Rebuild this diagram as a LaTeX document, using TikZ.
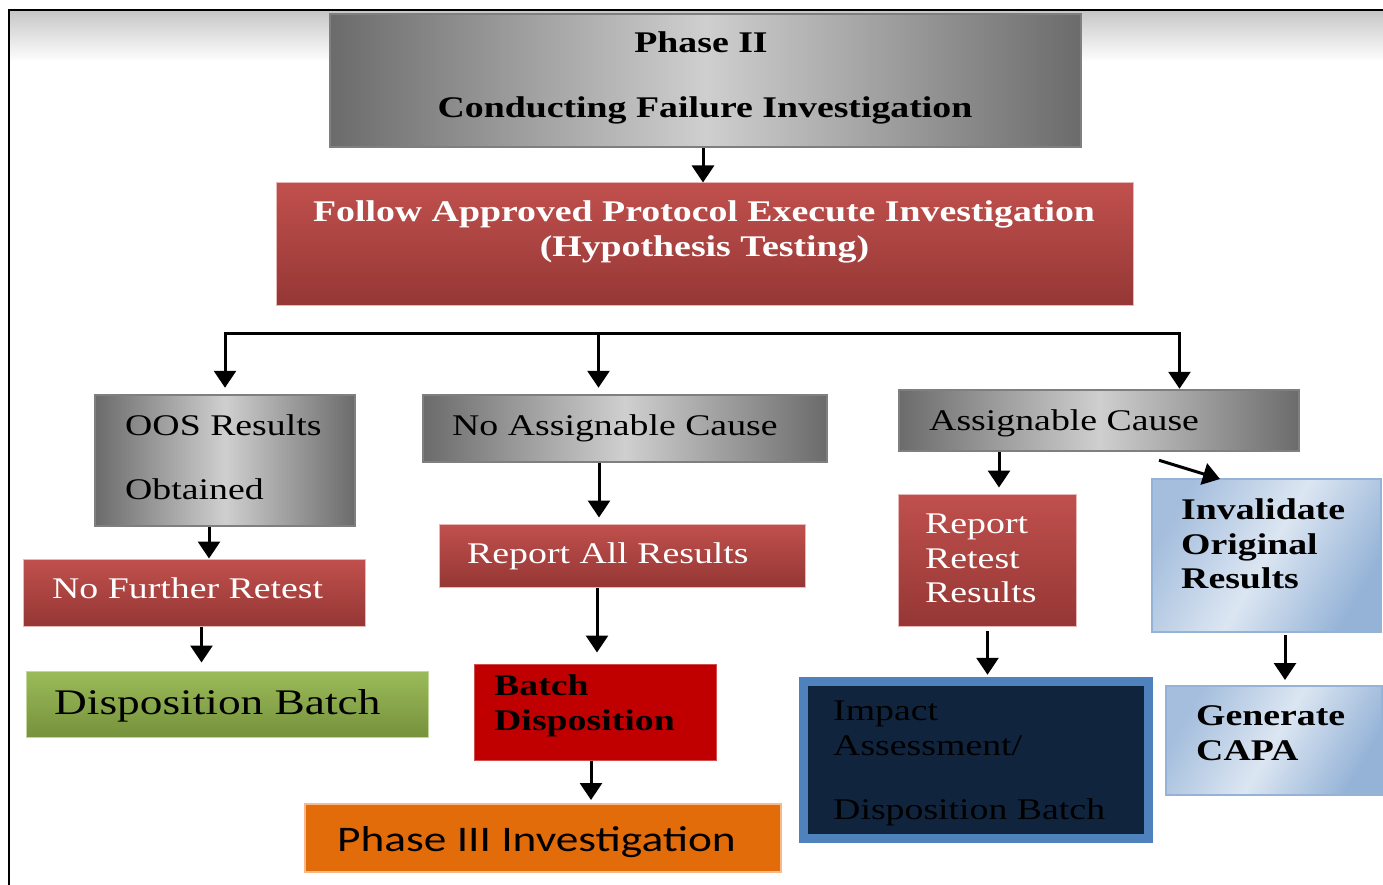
\documentclass[tikz,border=0pt]{standalone}
\usepackage{fontspec}
\setmainfont{Liberation Serif}[FakeStretch=1.26]
\newfontfamily\calfont{Carlito}[FakeStretch=1.26]
\usetikzlibrary{arrows.meta}

\definecolor{gdark}{HTML}{6B6B6B}
\definecolor{glight}{HTML}{CFCFCF}
\definecolor{gborder}{HTML}{7F7F7F}
\definecolor{rtop}{HTML}{C0504D}
\definecolor{rbot}{HTML}{953735}
\definecolor{rborder}{HTML}{E6B9B8}
\definecolor{gtop}{HTML}{9BBB59}
\definecolor{gbot}{HTML}{76923C}
\definecolor{gnborder}{HTML}{C3D69B}
\definecolor{brightred}{HTML}{C00000}
\definecolor{orangefill}{HTML}{E26B0A}
\definecolor{orangeborder}{HTML}{FAB98A}
\definecolor{bluedark}{HTML}{95B3D7}
\definecolor{bluelight}{HTML}{DCE6F2}
\definecolor{navy}{HTML}{10243E}
\definecolor{midblue}{HTML}{4F81BD}

\begin{document}
\begin{tikzpicture}[x=1pt,y=-1pt,
  box/.style={rectangle, inner sep=0pt},
  graybox/.style={box, draw=gborder, line width=2.5pt,
    left color=gdark, right color=gdark, middle color=glight},
  redbox/.style={box, draw=rborder, line width=1pt,
    top color=rtop, bottom color=rbot},
  greenbox/.style={box, draw=gnborder, line width=1pt,
    top color=gtop, bottom color=gbot},
  bluebox/.style={box, draw=bluedark, line width=2pt,
    left color=bluedark!85!white, right color=bluedark, middle color=bluelight,
    shading angle=60},
  txt/.style={inner sep=0pt, anchor=base west, font=\fontsize{30}{34}\selectfont},
  btxt/.style={txt, font=\fontsize{30}{34}\selectfont\bfseries},
  wtxt/.style={txt, text=white},
  line/.style={line width=3pt},
  arr/.style={line, -{Triangle[length=17pt,width=22pt]}}
]
\useasboundingbox (0,0) rectangle (1383,885);

% outer frame with a soft grey band along the top
\shade[top color=black!22, bottom color=white] (9,11) rectangle (1383,62);
\draw[line width=2.5pt, line cap=rect] (9,885) -- (9,10) -- (1383,10);

% ---- boxes ----
\node[graybox, minimum width=751, minimum height=133] (p2) at (705.5,80.5) {};
\node[redbox, minimum width=857, minimum height=122] (fol) at (704.5,244) {};

\node[graybox, minimum width=260, minimum height=131] (oos) at (225,460.5) {};
\node[graybox, minimum width=404, minimum height=67] (nac) at (625,428.5) {};
\node[graybox, minimum width=400, minimum height=61] (ac) at (1099,420.5) {};

\node[redbox, minimum width=342, minimum height=67] (nfr) at (194,592.5) {};
\node[greenbox, minimum width=402, minimum height=66] (dis) at (227,704) {};

\node[redbox, minimum width=366, minimum height=63] (rar) at (622,555.5) {};
\node[box, fill=brightred, draw=brightred!70!white, line width=1pt,
      minimum width=242, minimum height=96] (bd) at (595,712) {};
\node[box, fill=orangefill, draw=orangeborder, line width=2pt,
      minimum width=476, minimum height=68] (p3) at (543,838) {};

\node[redbox, minimum width=178, minimum height=132] (rrr) at (987,560) {};
\node[bluebox, minimum width=229, minimum height=153] (inv) at (1266.5,555.5) {};
\node[box, fill=navy, draw=midblue, line width=9pt,
      minimum width=344.5, minimum height=157.5] (imp) at (976,760) {};
\node[bluebox, minimum width=216, minimum height=109] (capa) at (1274,740.5) {};

% ---- texts ----
\node[btxt, anchor=base] (p2a) at (701,53) {Phase II};
\node[btxt, anchor=base] (p2b) at (705,118) {Conducting Failure Investigation};
\node[btxt, text=white, anchor=base] (fola) at (704,222) {Follow Approved Protocol Execute Investigation};
\node[btxt, text=white, anchor=base] (folb) at (704.5,257) {(Hypothesis Testing)};

\node[txt] (oosa) at (125,435) {OOS Results};
\node[txt] (oosb) at (125,499) {Obtained};
\node[txt] (naca) at (452,435) {No Assignable Cause};
\node[txt] (aca) at (929,430) {Assignable Cause};

\node[wtxt] (nfra) at (52,598) {No Further Retest};
\node[txt, font=\fontsize{36}{40}\selectfont] (disa) at (54,714) {Disposition Batch};

\node[wtxt] (rara) at (467,563) {Report All Results};
\node[btxt] (bda) at (494,695) {Batch};
\node[btxt] (bdb) at (494,730) {Disposition};
\node[txt, font=\fontsize{36}{40}\selectfont\calfont] (p3a) at (337,851) {Phase III Investigation};

\node[wtxt] (rrra) at (925,533) {Report};
\node[wtxt] (rrrb) at (925,568) {Retest};
\node[wtxt] (rrrc) at (925,602) {Results};

\node[btxt] (inva) at (1181,519) {Invalidate};
\node[btxt] (invb) at (1181,554) {Original};
\node[btxt] (invc) at (1181,588) {Results};

\node[txt] (impa) at (833,720) {Impact};
\node[txt] (impb) at (833,755) {Assessment/};
\node[txt] (impc) at (833,819) {Disposition Batch};

\node[btxt] (capaa) at (1196,725) {Generate};
\node[btxt] (capab) at (1196,760) {CAPA};

% ---- connectors ----
\draw[arr] ([xshift=-2.5pt]p2.south) -- ([xshift=-2.5pt]p2.south |- fol.north);

\coordinate (j1) at (225,333);
\coordinate (j2) at (598.5,333);
\coordinate (j3) at (1179.5,333);
\draw[line, line cap=rect] (j1) -- (j3);
\draw[arr, shorten >=6pt] (j1) -- (j1 |- oos.north);
\draw[arr, shorten >=6pt] (j2) -- (j2 |- nac.north);
\draw[arr] (j3) -- (j3 |- ac.north);

\draw[arr] (oos.south -| 209,0) -- (nfr.north -| 209,0);
\draw[arr, shorten >=8pt] (nfr.south -| 201.5,0) -- (dis.north -| 201.5,0);

\draw[arr, shorten >=6pt] (nac.south -| 599,0) -- (rar.north -| 599,0);
\draw[arr, shorten >=11pt] (rar.south -| 597,0) -- (bd.north -| 597,0);
\draw[arr, shorten >=3pt] (bd.south -| 591,0) -- (p3.north -| 591,0);

\draw[arr, shorten >=6pt] (ac.south -| 999,0) -- (rrr.north -| 999,0);
\draw[arr] ([xshift=60pt,yshift=-8pt]ac.south) -- ([xshift=69pt,yshift=-1pt]inv.north west);
\draw[arr, shorten <=4pt, shorten >=2pt] (rrr.south -| 987.5,0) -- (imp.north -| 987.5,0);
\draw[arr, shorten <=2pt, shorten >=5pt] (inv.south -| 1285,0) -- (capa.north -| 1285,0);
\end{tikzpicture}
\end{document}
